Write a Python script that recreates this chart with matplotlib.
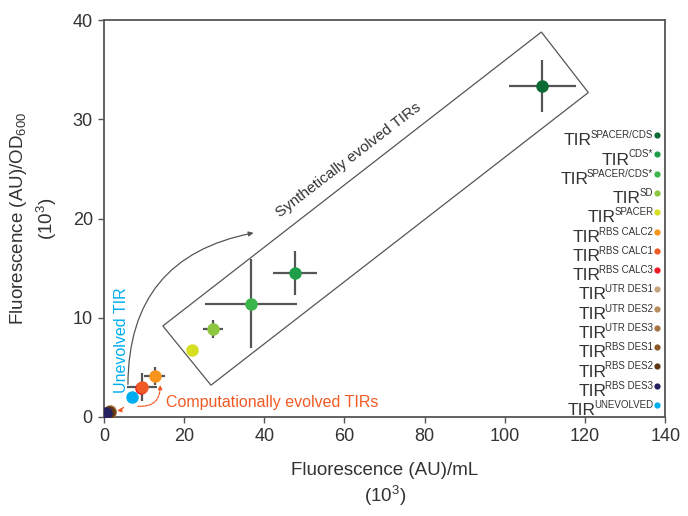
import matplotlib
matplotlib.use("Agg")
import matplotlib.pyplot as plt
from matplotlib.patches import Polygon, FancyArrowPatch
from matplotlib.transforms import offset_copy
import numpy as np

plt.rcParams['font.family'] = ['Liberation Sans', 'DejaVu Sans']
plt.rcParams['mathtext.fontset'] = 'custom'
plt.rcParams['mathtext.rm'] = 'Liberation Sans'
plt.rcParams['mathtext.it'] = 'Liberation Sans'
plt.rcParams['mathtext.bf'] = 'Liberation Sans'

# ---- data ----
names = ['SPACER/CDS', 'CDS*', 'SPACER/CDS*', 'SD', 'SPACER',
         'RBS CALC2', 'RBS CALC1', 'RBS CALC3',
         'UTR DES1', 'UTR DES2', 'UTR DES3',
         'RBS DES1', 'RBS DES2', 'RBS DES3', 'UNEVOLVED']
colors = ['#0b6b35', '#1e9e48', '#3cb54a', '#8dc63f', '#d7df23',
          '#f7941d', '#f15a24', '#ed1c24',
          '#c9a57c', '#b88d5e', '#a57446',
          '#8b5a2b', '#603913', '#262262', '#00aeef']
x_vals = [109.3, 47.7, 36.7, 27.2, 22.0, 12.7, 9.5, 9.2,
          1.6, 1.5, 1.4, 1.3, 1.25, 0.5, 7.0]
y_vals = [33.35, 14.5, 11.4, 8.9, 6.75, 4.1, 3.0, 2.9,
          0.6, 0.55, 0.5, 0.5, 0.5, 0.4, 2.0]
x_err = [8.4, 5.5, 11.5, 2.6, 0.8, 2.6, 3.8, 0.5,
         0.2, 0.2, 0.2, 0.2, 0.2, 0.1, 0.6]
y_err = [2.6, 2.2, 4.5, 0.9, 0.4, 0.9, 1.4, 0.3,
         0.1, 0.1, 0.1, 0.1, 0.1, 0.1, 0.3]

x_ticks = [0, 20, 40, 60, 80, 100, 120, 140]
y_ticks = [0, 10, 20, 30, 40]

# ---- figure ----
fig = plt.figure(figsize=(6.88, 5.16), dpi=100)
ax = fig.add_axes([0.151, 0.192, 0.816, 0.769])
ax.set_xlim(0, 140)
ax.set_ylim(0, 40)

grey = '#555555'
for xv, yv, xe, ye in zip(x_vals, y_vals, x_err, y_err):
    ax.errorbar(xv, yv, xerr=xe, yerr=ye, fmt='none', ecolor=grey,
                elinewidth=1.6, capsize=0, zorder=2)
order = [8, 9, 10, 11, 12, 13, 7, 6, 5, 4, 3, 2, 1, 0, 14]
for i in order:
    ax.plot(x_vals[i], y_vals[i], 'o', color=colors[i], ms=9,
            mec='none', zorder=3)

# annotation box (rotated rectangle)
box = Polygon([(14.7, 9.17), (109.1, 38.8), (120.8, 32.7), (26.7, 3.2)],
              closed=True, fill=False, ec=grey, lw=0.9, zorder=1)
ax.add_patch(box)
ax.text(61.0, 25.9, 'Synthetically evolved TIRs', rotation=37.5,
        rotation_mode='anchor', ha='center', va='center',
        fontsize=11, color='#333333')

# grey curved arrow
arr = FancyArrowPatch((6.0, 3.0), (38.0, 18.6),
                      connectionstyle='arc3,rad=-0.42',
                      arrowstyle='-|>', mutation_scale=7,
                      color=grey, lw=0.9, zorder=1)
ax.add_patch(arr)

# red curved arrows
red = '#f15a24'
ax.add_patch(FancyArrowPatch((5.3, 1.2), (2.6, 0.6),
                             connectionstyle='arc3,rad=-0.3',
                             arrowstyle='-|>', mutation_scale=6,
                             color=red, lw=0.9, ls=(0, (2, 1)), zorder=4))
ax.add_patch(FancyArrowPatch((7.8, 1.1), (14.0, 3.5),
                             connectionstyle='arc3,rad=0.6',
                             arrowstyle='-|>', mutation_scale=6,
                             color=red, lw=0.9, ls=(0, (2, 1)), zorder=4))

ax.text(15.4, 1.45, 'Computationally evolved TIRs', ha='left',
        va='center', fontsize=11.5, color=red)
ax.text(4.3, 7.7, 'Unevolved TIR', rotation=90, ha='center',
        va='center', fontsize=11.5, color='#00aeef')

# legend at right
renderer = fig.canvas.get_renderer()
leg_y = np.linspace(28.4, 1.2, len(names))
for name, c, ly in zip(names, colors, leg_y):
    ax.plot(137.9, ly, 'o', color=c, ms=4.5, mec='none', zorder=5)
    sup = ax.text(137.0, ly, name, ha='right', va='center',
                  fontsize=7.0, color='#333333')
    bb = sup.get_window_extent(renderer=renderer)
    w_pts = bb.width * 72.0 / fig.dpi
    tr = offset_copy(ax.transData, fig=fig, x=-w_pts + 0.8, y=-4.0,
                     units='points')
    ax.text(137.0, ly, 'TIR', ha='right', va='center', fontsize=12.5,
            color='#333333', transform=tr)

# axes styling
ax.set_xticks(x_ticks)
ax.set_yticks(y_ticks)
for s in ax.spines.values():
    s.set_color(grey)
    s.set_linewidth(1.3)
ax.tick_params(direction='out', length=4, width=1.0, color=grey,
               labelsize=13, labelcolor='#333333', pad=4)
ax.set_xlabel('Fluorescence (AU)/mL\n(10$^{3}$)', fontsize=13.5,
              color='#333333', labelpad=12, linespacing=1.3)
ax.set_ylabel('Fluorescence (AU)/OD$_{600}$\n(10$^{3}$)', fontsize=13.5,
              color='#333333', labelpad=10, linespacing=1.3)

fig.savefig('out.png', dpi=100)
